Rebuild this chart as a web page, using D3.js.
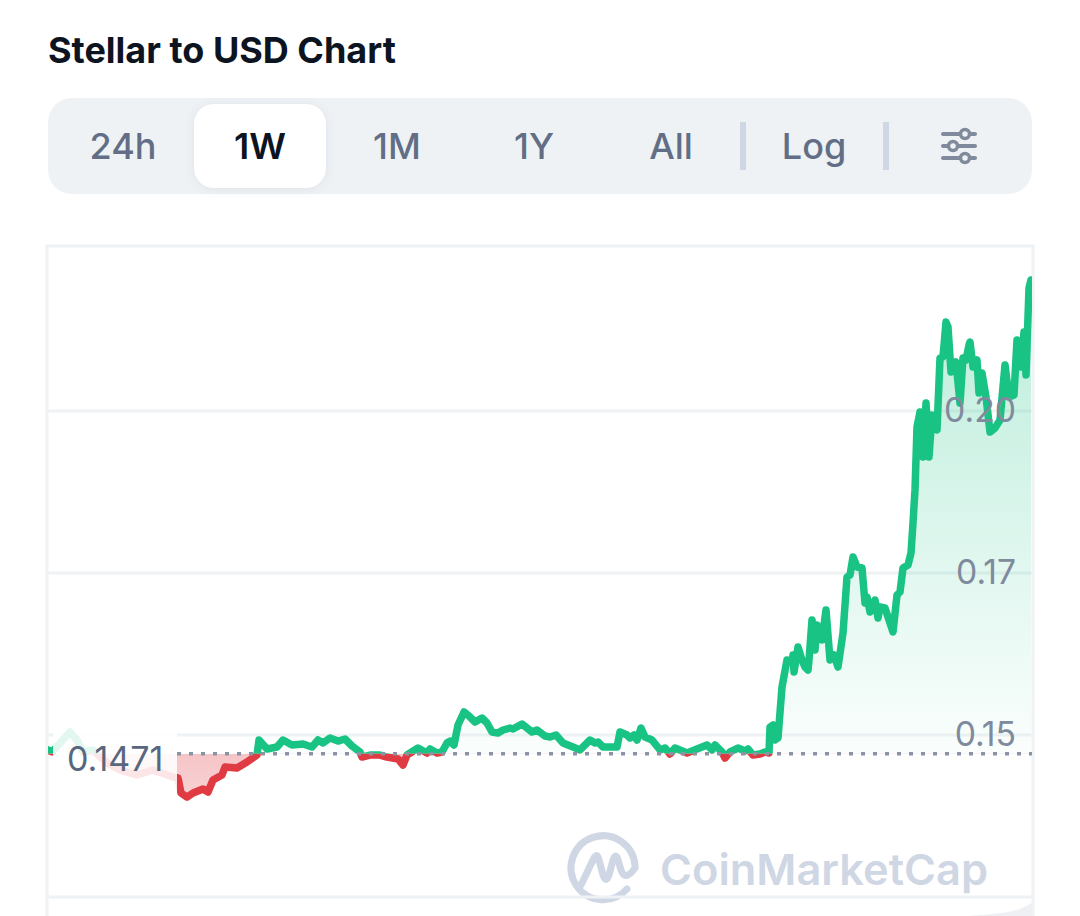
<!DOCTYPE html>
<html><head><meta charset="utf-8">
<script src="https://cdn.jsdelivr.net/npm/d3@7/dist/d3.min.js"></script>
<style>html,body{margin:0;padding:0;background:#fff}svg{display:block}text{font-family:Inter,"Noto Sans",sans-serif}</style>
</head><body><div id="chart"></div>
<script>
const title = "Stellar to USD Chart";
const tabs = ["24h","1W","1M","1Y","All","Log"];
const activeTab = "1W";
const baselinePrice = 0.1471;
const baselineLabel = "0.1471";
const tickValues = [0.125,0.15,0.175,0.20];
const tickLabels = ["","0.15","0.17","0.20"];
// sample step of the week (one step is about ten minutes)
const steps = [0,4,12,22,29,35,45,59,72,89,105,125,130,133,139,145,155,160,165,174,177,189,199,209,211,219,229,235,244,255,264,270,275,282,290,297,304,312,314,322,332,339,350,355,359,370,379,382,389,394,399,402,406,410,416,422,427,434,439,444,450,455,462,465,474,479,484,489,497,502,508,515,525,532,542,547,550,555,569,572,579,582,586,589,593,597,604,612,617,622,627,639,649,659,664,667,674,677,682,690,697,700,705,712,717,721,722,725,727,730,734,739,744,745,746,750,754,757,760,761,764,767,769,774,778,782,786,790,795,799,802,805,809,814,817,819,822,827,830,832,837,845,849,852,855,860,863,865,867,869,872,875,878,881,884,889,892,895,898,900,903,908,912,915,918,921,922,925,929,931,934,938,942,947,952,957,961,966,969,973,976,978,981,983];
const prices = [.14769,.14738,.14877,.15046,.14923,.14738,.14769,.14568,.14460,.14383,.14460,.14352,.14336,.14105,.14043,.14105,.14167,.14120,.14306,.14383,.14506,.14491,.14583,.14691,.14923,.14784,.14815,.14923,.14846,.14861,.14815,.14923,.14877,.14954,.14907,.14938,.14830,.14738,.14660,.14691,.14691,.14660,.14630,.14537,.14691,.14799,.14722,.14784,.14722,.14738,.14877,.14907,.14846,.15154,.15355,.15278,.15201,.15262,.15185,.15046,.15031,.15077,.15108,.15093,.15170,.15108,.15046,.15077,.14985,.14969,.15000,.14877,.14815,.14769,.14923,.14877,.14892,.14815,.14815,.15046,.15000,.14954,.15000,.14923,.15108,.14969,.14923,.14769,.14799,.14707,.14799,.14722,.14784,.14846,.14769,.14846,.14738,.14645,.14738,.14799,.14753,.14784,.14691,.14707,.14738,.14722,.15123,.15154,.14923,.14954,.15741,.16157,.16127,.16235,.15972,.16358,.16157,.16049,.16003,.16157,.16775,.16312,.16698,.16466,.16929,.16157,.16235,.16049,.16574,.17438,.17469,.17747,.17593,.17577,.17037,.17130,.16898,.17083,.16806,.16975,.16960,.16590,.17160,.17207,.17577,.17623,.17809,.18272,.18781,.19753,.19985,.19290,.20123,.19290,.19938,.19707,.20818,.20833,.21373,.21296,.20602,.20756,.20123,.20818,.20787,.21019,.21065,.20679,.20787,.20278,.20586,.20216,.19676,.19738,.19861,.20710,.20216,.20247,.21096,.20679,.21219,.20556,.21898,.22022,.21559];
const volumeSteps = [920,945,960,972,984];
const volumeValues = [0,2,4,7,13];
const watermark = "CoinMarketCap";

const W=1080,H=916;
const plot={left:48,right:1032,top:246};
const green="#19c384",red="#e03a42",grid="#eff2f5";
const svg=d3.select("#chart").append("svg").attr("width",W).attr("height",H);
const x=d3.scaleLinear().domain([0,984]).range([plot.left,plot.right]);
const y=d3.scaleLinear().domain([0.15,0.20]).range([735,411]);
const vy=d3.scaleLinear().domain([0,13]).range([916,903]);
const rows=d3.zip(steps,prices);
const by=y(baselinePrice);

const defs=svg.append("defs");
const gg=defs.append("linearGradient").attr("id","gg").attr("gradientUnits","userSpaceOnUse").attr("x1",0).attr("x2",0).attr("y1",280).attr("y2",by);
gg.append("stop").attr("offset",0).attr("stop-color",green).attr("stop-opacity",.3);
gg.append("stop").attr("offset",1).attr("stop-color",green).attr("stop-opacity",.02);
const rg=defs.append("linearGradient").attr("id","rg").attr("gradientUnits","userSpaceOnUse").attr("x1",0).attr("x2",0).attr("y1",by).attr("y2",800);
rg.append("stop").attr("offset",0).attr("stop-color",red).attr("stop-opacity",.3);
rg.append("stop").attr("offset",1).attr("stop-color",red).attr("stop-opacity",.22);
defs.append("clipPath").attr("id","up").append("rect").attr("x",plot.left).attr("y",0).attr("width",plot.right-plot.left).attr("height",by);
defs.append("clipPath").attr("id","down").append("rect").attr("x",plot.left).attr("y",by).attr("width",plot.right-plot.left).attr("height",H-by);

// header
svg.append("text").attr("x",48).attr("y",63).attr("font-size",36).attr("font-weight",700).attr("fill","#0d1421").text(title);
svg.append("rect").attr("x",48).attr("y",98).attr("width",984).attr("height",96).attr("rx",24).attr("fill",grid);
defs.append("filter").attr("id","sh").attr("x","-20%").attr("y","-20%").attr("width","140%").attr("height","140%")
  .append("feDropShadow").attr("dx",0).attr("dy",1).attr("stdDeviation",5).attr("flood-color","#58667e").attr("flood-opacity",.12);
svg.append("rect").attr("x",194).attr("y",104).attr("width",132).attr("height",84).attr("rx",20).attr("fill","#fff").attr("filter","url(#sh)");
const tabX=[123,260,397,534,671,814];
svg.selectAll(".tab").data(tabs).join("text").attr("class","tab")
  .attr("x",(d,i)=>tabX[i]).attr("y",159).attr("text-anchor","middle").attr("font-size",36)
  .attr("font-weight",d=>d===activeTab?600:500).attr("fill",d=>d===activeTab?"#0d1421":"#616e85").text(d=>d);
[743,886].forEach(px=>svg.append("rect").attr("x",px-3).attr("y",122).attr("width",6).attr("height",48).attr("fill","#cfd6e4"));
[[134,965],[146,953],[158,965]].forEach(([py,cx])=>{
  svg.append("line").attr("x1",943).attr("x2",975).attr("y1",py).attr("y2",py).attr("stroke","#808a9d").attr("stroke-width",4).attr("stroke-linecap","round");
  svg.append("circle").attr("cx",cx).attr("cy",py).attr("r",4.5).attr("fill",grid).attr("stroke","#808a9d").attr("stroke-width",3.5);
});

// frame
svg.append("path").attr("d",`M${plot.left-1},${H}V${plot.top}H${plot.right+1}V${H}`).attr("fill","none").attr("stroke",grid).attr("stroke-width",3);

// watermark
const wm=svg.append("g").attr("fill","none").attr("stroke","#cfd6e4").attr("stroke-linecap","round").attr("stroke-linejoin","round");
wm.append("path").attr("stroke-width",7).attr("d","M627,889A32,32 0 1 1 635,866");
wm.append("path").attr("stroke-width",7).attr("d","M581,885L593,860Q597,851 599,860L603,875Q606,884 609,875L613,860Q616,852 618,860L621,870Q625,882 635,868");
svg.append("text").attr("x",660).attr("y",885).attr("font-size",43).attr("font-weight",600).attr("fill","#cfd6e4").attr("textLength",328).attr("lengthAdjust","spacingAndGlyphs").text(watermark);

// grid and axis
const axis=d3.axisRight(y).tickValues(tickValues).tickSize(0).tickPadding(0).tickFormat((d,i)=>tickLabels[i]);
const gGrid=svg.append("g");
gGrid.selectAll("line").data(tickValues).join("line").attr("x1",plot.left).attr("x2",plot.right).attr("y1",d=>y(d)).attr("y2",d=>y(d)).attr("stroke",grid).attr("stroke-width",3);

// volume sliver
svg.append("path").datum(d3.zip(volumeSteps,volumeValues))
  .attr("d",d3.area().x(d=>x(d[0])).y0(vy(0)).y1(d=>vy(d[1]))).attr("fill","#eef0f3");

// areas and line
const area=d3.area().x(d=>x(d[0])).y0(by).y1(d=>y(d[1]));
const line=d3.line().x(d=>x(d[0])).y(d=>y(d[1]));
svg.append("path").datum(rows).attr("d",area).attr("fill","url(#gg)").attr("clip-path","url(#up)");
svg.append("path").datum(rows).attr("d",area).attr("fill","url(#rg)").attr("clip-path","url(#down)");
svg.append("path").datum(rows).attr("d",line).attr("fill","none").attr("stroke",green).attr("stroke-width",7.5).attr("stroke-linejoin","round").attr("stroke-linecap","round").attr("clip-path","url(#up)");
svg.append("path").datum(rows).attr("d",line).attr("fill","none").attr("stroke",red).attr("stroke-width",7.5).attr("stroke-linejoin","round").attr("stroke-linecap","round").attr("clip-path","url(#down)");

// baseline
svg.append("line").attr("x1",177).attr("x2",plot.right).attr("y1",by).attr("y2",by).attr("stroke","#8a93a3").attr("stroke-width",3.5).attr("stroke-dasharray","4 8");

// y labels
const ax=svg.append("g").attr("transform","translate(1016,0)").call(axis);
ax.select(".domain").remove();
ax.selectAll("text").attr("x",0).attr("text-anchor","end").attr("font-size",33.7).attr("fill","#808a9d").style("font-family","Inter,sans-serif");

// baseline label with translucent backing
svg.append("rect").attr("x",53).attr("y",724).attr("width",124).attr("height",72).attr("fill","#fff").attr("opacity",.87);
svg.append("text").attr("x",67).attr("y",771).attr("font-size",34).attr("fill","#58667e").text(baselineLabel);
</script></body></html>
